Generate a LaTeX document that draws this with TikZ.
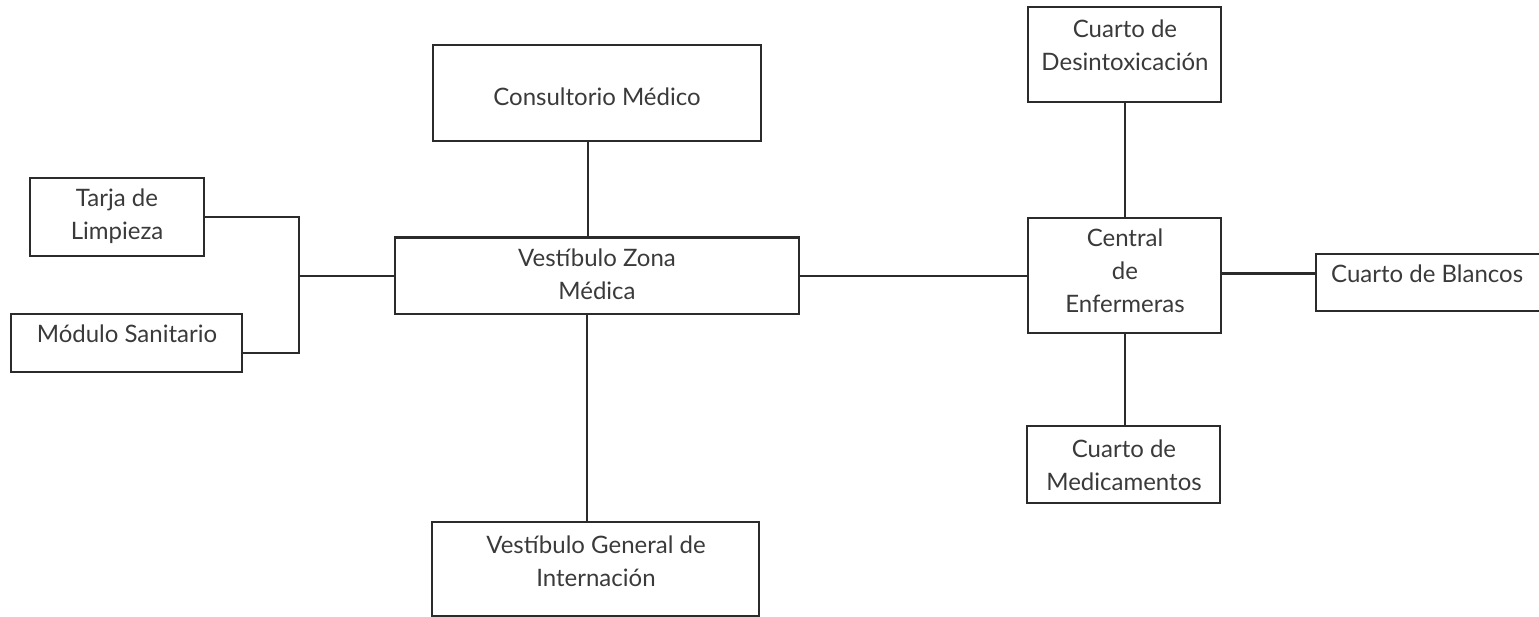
\documentclass[tikz,border=0pt]{standalone}
\usepackage{fontspec}
\setmainfont{Lato}
\definecolor{ink}{HTML}{2B2B2B}
\definecolor{txtc}{HTML}{3A3A3A}
\newcommand{\twolines}[2]{\begin{tabular}[t]{@{}c@{}}#1\\#2\end{tabular}}
\newcommand{\threelines}[3]{\begin{tabular}[t]{@{}c@{}}#1\\#2\\#3\end{tabular}}
\tikzset{
  box/.style={draw=ink, line width=2.4pt, inner sep=0pt, rectangle},
  openbox/.style={inner sep=0pt, rectangle},
  lbl/.style={anchor=base, inner sep=0pt, text=txtc, font=\fontsize{24}{33}\selectfont},
  wire/.style={draw=ink, line width=2.4pt},
}
\begin{document}
\begin{tikzpicture}[x=1pt, y=-1pt]
\useasboundingbox (0,0) rectangle (1539,617);
\clip (0,0) rectangle (1539,617);
% boxes
\node[box, minimum width=328, minimum height=96] (cons) at (597,93) {};
\node[box, minimum width=404, minimum height=76.5] (vzm) at (597,275.75) {};
\node[box, minimum width=174, minimum height=78] (tarja) at (117,217) {};
\node[box, minimum width=231, minimum height=58] (mod) at (126.5,343) {};
\node[box, minimum width=327, minimum height=94] (vgi) at (595.5,569) {};
\node[box, minimum width=193, minimum height=95] (des) at (1124.5,54.5) {};
\node[box, minimum width=193, minimum height=115] (cen) at (1124.5,275.5) {};
\node[box, minimum width=193, minimum height=77] (med) at (1123.5,464.5) {};
\node[openbox, minimum width=300, minimum height=57] (bla) at (1466,282.5) {};
\draw[wire, line join=miter] (bla.north east) -- (bla.north west) -- (bla.south west) -- (bla.south east);
% labels
\node[lbl] (consT) at (597,106) {Consultorio Médico};
\node[lbl] (vzmT) at (597,267) {\twolines{Vestíbulo Zona}{Médica}};
\node[lbl] (tarjaT) at (117,207) {\twolines{Tarja de}{Limpieza}};
\node[lbl] (modT) at (127,343) {Módulo Sanitario};
\node[lbl] (vgiT) at (596,553) {\twolines{Vestíbulo General de}{Internación}};
\node[lbl] (desT) at (1125,38) {\twolines{Cuarto de}{Desintoxicación}};
\node[lbl] (cenT) at (1125,247) {\threelines{Central}{de}{Enfermeras}};
\node[lbl] (medT) at (1124,457) {\twolines{Cuarto de}{Medicamentos}};
\node[lbl, anchor=base west] (blaT) at (1331,283) {Cuarto de Blancos};
% connectors
\coordinate (jt) at (299,217);
\coordinate (jm) at (299,353);
\coordinate (jl) at (299,275.75);
\draw[wire] (tarja.east) -- (jt) -- (jm) -- (jm -| mod.east);
\draw[wire] (jl) -- (vzm.west);
\coordinate (ax) at (588,0);
\coordinate (bx) at (587,0);
\draw[wire] (cons.south -| ax) -- (vzm.north -| ax);
\draw[wire] (vzm.south -| bx) -- (vgi.north -| bx);
\draw[wire] (vzm.east) -- (vzm.east -| cen.west);
\coordinate (cx) at (1125,0);
\draw[wire] (des.south -| cx) -- (cen.north -| cx);
\draw[wire] (cen.south -| cx) -- (med.north -| cx);
\coordinate (by) at (0,273.5);
\draw[wire] (cen.east |- by) -- (bla.west |- by);
\end{tikzpicture}
\end{document}
